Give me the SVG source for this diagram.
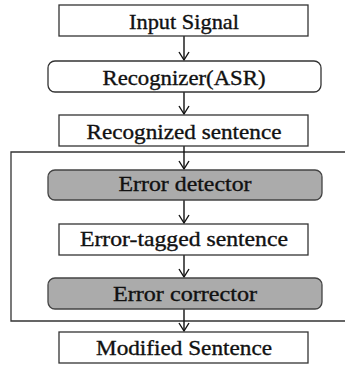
<svg xmlns="http://www.w3.org/2000/svg" width="345" height="366" viewBox="0 0 345 366">
<defs>
<marker id="arr" viewBox="-10 -7 12 14" markerWidth="12" markerHeight="14" refX="0" refY="0" orient="auto" markerUnits="userSpaceOnUse">
<path d="M-8,-5 L0,0 L-8,5" fill="none" stroke="#111" stroke-width="1.4"/>
</marker>
</defs>
<style>
.box{fill:#fff;stroke:#333;stroke-width:1.3}
.proc{fill:#ababab;stroke:#444;stroke-width:1.3}
.lbl{font-family:"Liberation Serif","Times New Roman",serif;font-size:21px;fill:#111;text-anchor:middle;stroke:#111;stroke-width:0.35}
.conn{stroke:#111;stroke-width:1.4;fill:none}
.frame{stroke:#333;stroke-width:1.3;fill:none}
</style>
<rect width="345" height="366" fill="#fff"/>
<path class="frame" d="M345,152 H11 V321 H345"/>
<g id="connectors">
<line class="conn" x1="184" y1="36" x2="184" y2="60" marker-end="url(#arr)"/>
<line class="conn" x1="184" y1="92" x2="184" y2="114" marker-end="url(#arr)"/>
<line class="conn" x1="184" y1="146" x2="184" y2="169" marker-end="url(#arr)"/>
<line class="conn" x1="184" y1="200" x2="184" y2="223" marker-end="url(#arr)"/>
<line class="conn" x1="184" y1="255" x2="184" y2="277" marker-end="url(#arr)"/>
<line class="conn" x1="184" y1="309" x2="184" y2="331" marker-end="url(#arr)"/>
</g>
<g id="input-signal">
<rect class="box" x="59" y="5" width="249" height="31"/>
<text class="lbl" x="184" y="29" textLength="110" lengthAdjust="spacingAndGlyphs">Input Signal</text>
</g>
<g id="recognizer">
<rect class="box" x="48" y="61" width="273" height="31" rx="7"/>
<text class="lbl" x="184" y="85" textLength="163" lengthAdjust="spacingAndGlyphs">Recognizer(ASR)</text>
</g>
<g id="recognized-sentence">
<rect class="box" x="59" y="115" width="249" height="31"/>
<text class="lbl" x="184" y="139" textLength="195" lengthAdjust="spacingAndGlyphs">Recognized sentence</text>
</g>
<g id="error-detector">
<rect class="proc" x="48" y="170" width="274" height="30" rx="7"/>
<text class="lbl" x="185" y="191" textLength="133" lengthAdjust="spacingAndGlyphs">Error detector</text>
</g>
<g id="error-tagged-sentence">
<rect class="box" x="59" y="224" width="249" height="31"/>
<text class="lbl" x="184" y="246" textLength="208" lengthAdjust="spacingAndGlyphs">Error-tagged sentence</text>
</g>
<g id="error-corrector">
<rect class="proc" x="48" y="278" width="274" height="31" rx="7"/>
<text class="lbl" x="185" y="301" textLength="144" lengthAdjust="spacingAndGlyphs">Error corrector</text>
</g>
<g id="modified-sentence">
<rect class="box" x="59" y="332" width="249" height="31"/>
<text class="lbl" x="184" y="355" textLength="176" lengthAdjust="spacingAndGlyphs">Modified Sentence</text>
</g>
</svg>
